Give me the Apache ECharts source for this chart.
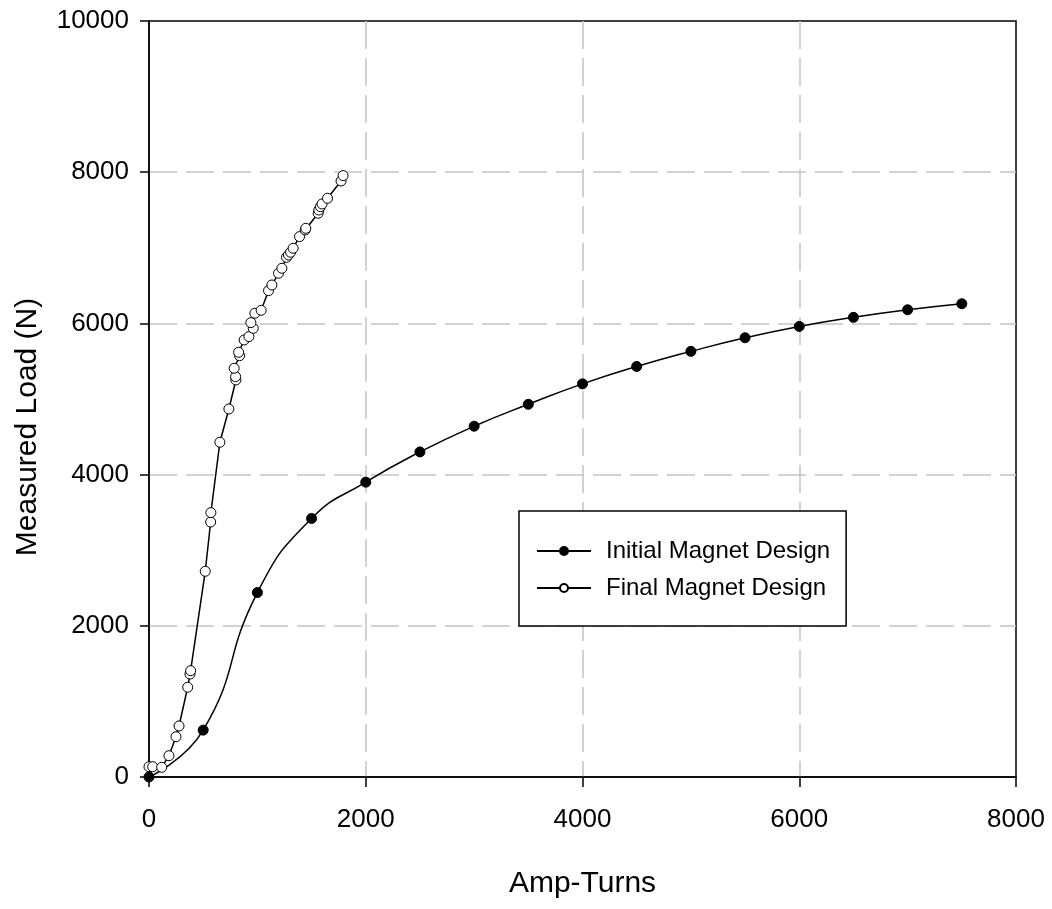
<!DOCTYPE html>
<html>
<head>
<meta charset="utf-8">
<script src="https://cdn.jsdelivr.net/npm/echarts@6/dist/echarts.min.js"></script>
<style>
html,body{margin:0;padding:0;background:#fff;}
#chart{width:1052px;height:909px;}
</style>
</head>
<body>
<div id="chart"></div>
<script>
// Data
const initialX = [0, 500, 1000, 1500, 2000, 2500, 3000, 3500, 4000, 4500, 5000, 5500, 6000, 6500, 7000, 7500];
const initialY = [0, 620, 2440, 3420, 3900, 4300, 4640, 4930, 5200, 5430, 5630, 5810, 5960, 6080, 6180, 6260];

const finalX = [0, 34, 117, 184, 249, 277, 357, 378, 384, 519, 569, 571, 654, 737, 802, 799, 786, 836, 827, 878, 922, 962, 940, 977, 1035, 1103, 1134, 1195, 1226, 1269, 1287, 1306, 1330, 1389, 1441, 1447, 1561, 1567, 1582, 1597, 1647, 1772, 1791];
const finalY = [136, 136, 128, 282, 533, 675, 1187, 1362, 1406, 2721, 3373, 3497, 4428, 4868, 5252, 5296, 5406, 5573, 5618, 5781, 5825, 5935, 6010, 6134, 6173, 6433, 6508, 6663, 6729, 6874, 6905, 6941, 6994, 7148, 7236, 7258, 7457, 7500, 7544, 7580, 7655, 7884, 7955];

const seriesNames = ['Initial Magnet Design', 'Final Magnet Design'];
const xTicks = [0, 2000, 4000, 6000, 8000];
const yTicks = [0, 2000, 4000, 6000, 8000, 10000];
const xTitle = 'Amp-Turns';
const yTitle = 'Measured Load (N)';

const FONT = '"Liberation Sans", Arial, sans-serif';

const zip = (xs, ys) => xs.map((x, i) => [x, ys[i]]);

const gridLine = {show: true, showMinLine: false, showMaxLine: false,
  lineStyle: {color: '#c4c4c4', width: 1.5, type: [28, 9]}};

const chart = echarts.init(document.getElementById('chart'), null, {renderer: 'canvas'});
chart.setOption({
  animation: false,
  backgroundColor: '#ffffff',
  grid: {
    left: 149, right: 36, top: 21, bottom: 132,
    containLabel: false,
    outerBoundsMode: 'none',
    show: true, borderColor: '#000', borderWidth: 1.5, backgroundColor: 'transparent'
  },
  xAxis: {
    type: 'value',
    min: xTicks[0], max: xTicks[xTicks.length - 1], interval: xTicks[1] - xTicks[0],
    name: xTitle, nameLocation: 'middle', nameGap: 92,
    nameTextStyle: {fontFamily: FONT, fontSize: 30, color: '#000'},
    axisLine: {show: true, onZero: false, lineStyle: {color: '#000', width: 1.5}},
    axisTick: {show: true, inside: false, length: 10, lineStyle: {color: '#000', width: 1.5}},
    axisLabel: {margin: 30, fontFamily: FONT, fontSize: 26, color: '#000', formatter: v => String(v)},
    splitLine: gridLine
  },
  yAxis: {
    type: 'value',
    min: yTicks[0], max: yTicks[yTicks.length - 1], interval: yTicks[1] - yTicks[0],
    name: yTitle, nameLocation: 'middle', nameGap: 106, nameRotate: 90,
    nameTextStyle: {fontFamily: FONT, fontSize: 30, color: '#000', padding: [0, 56, 0, 0]},
    axisLine: {show: true, onZero: false, lineStyle: {color: '#000', width: 1.5}},
    axisTick: {show: true, inside: false, length: 9, lineStyle: {color: '#000', width: 1.5}},
    axisLabel: {margin: 20, fontFamily: FONT, fontSize: 26, color: '#000', formatter: v => String(v)},
    splitLine: gridLine
  },
  legend: {
    orient: 'vertical',
    left: 519, top: 511,
    padding: [28, 16, 26, 17],
    itemGap: 13,
    itemWidth: 54, itemHeight: 10,
    borderColor: '#000', borderWidth: 1.5, backgroundColor: '#fff',
    textStyle: {fontFamily: FONT, fontSize: 24, color: '#000', padding: [0, 0, 0, 10]},
    data: seriesNames
  },
  series: [
    {
      name: seriesNames[0], type: 'line', smooth: 0.5,
      data: zip(initialX, initialY),
      symbol: 'circle', symbolSize: 10,
      lineStyle: {color: '#000', width: 1.5},
      itemStyle: {color: '#000', borderColor: '#000', borderWidth: 1}
    },
    {
      name: seriesNames[1], type: 'line', smooth: false,
      data: zip(finalX, finalY),
      symbol: 'circle', symbolSize: 10,
      lineStyle: {color: '#000', width: 1.5},
      itemStyle: {color: '#fff', borderColor: '#000', borderWidth: 1}
    }
  ]
});
</script>
</body>
</html>
